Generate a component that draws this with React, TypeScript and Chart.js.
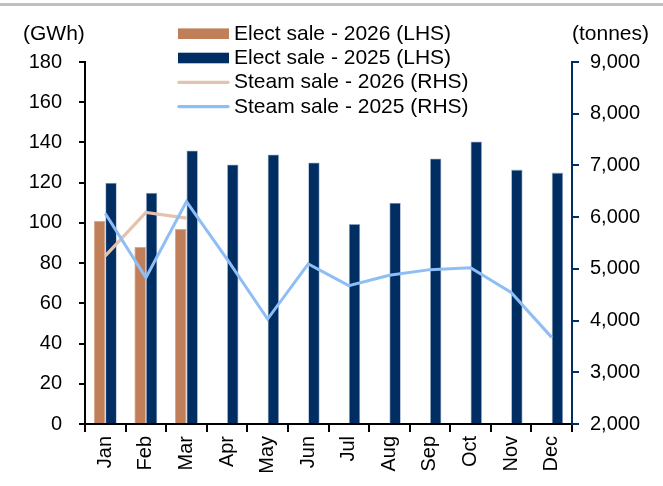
import React, { useEffect, useRef } from "react";
import { Chart, registerables } from "chart.js";

Chart.register(...registerables);

const months = ["Jan", "Feb", "Mar", "Apr", "May", "Jun", "Jul", "Aug", "Sep", "Oct", "Nov", "Dec"];
const elect2026 = [101, 88, 97, null, null, null, null, null, null, null, null, null];
const elect2025 = [120, 115, 136, 129, 134, 130, 99.5, 110, 132, 140.5, 126.5, 125];
const steam2026 = [5250, 6090, 5980, null, null, null, null, null, null, null, null, null];
const steam2025 = [6070, 4830, 6300, 5190, 4030, 5095, 4675, 4875, 4985, 5020, 4545, 3675];
const leftTicks = { min: 0, max: 180, step: 20 };
const rightTicks = { min: 2000, max: 9000, step: 1000 };
const leftTitle = "(GWh)";
const rightTitle = "(tonnes)";

const NAVY = "#002D62";
const ORANGE = "#C17F59";
const PEACH = "#E4C2AD";
const LIGHTBLUE = "#8DBEF5";
const FONT = "'Liberation Sans', Arial, sans-serif";

const overlayPlugin = {
  id: "overlay",
  afterDraw(chart: any) {
    const ctx = chart.ctx;
    ctx.save();
    ctx.fillStyle = "#C0C0C0";
    ctx.fillRect(0, 3, 663, 3);
    ctx.fillStyle = "#000";
    ctx.font = `21px ${FONT}`;
    ctx.textBaseline = "alphabetic";
    ctx.textAlign = "left";
    ctx.fillText(leftTitle, 23, 40);
    ctx.fillText(rightTitle, 572, 40);
    const dsets = chart.data.datasets;
    dsets.forEach((ds: any, i: number) => {
      const cy = 33.7 + i * 24.3;
      const base = 40 + i * 24.2;
      if (ds.type === "line") {
        ctx.strokeStyle = ds.borderColor;
        ctx.lineWidth = 3.3;
        ctx.lineCap = "round";
        ctx.beginPath();
        ctx.moveTo(179, cy);
        ctx.lineTo(228, cy);
        ctx.stroke();
      } else {
        ctx.fillStyle = ds.backgroundColor;
        ctx.fillRect(178, cy - 5.3, 51, 10.6);
      }
      ctx.fillStyle = "#000";
      ctx.font = `21px ${FONT}`;
      ctx.fillText(ds.label, 234, base);
    });
    ctx.restore();
  },
};

export default function App() {
  const ref = useRef<HTMLCanvasElement | null>(null);
  useEffect(() => {
    if (!ref.current) return;
    const tickFont = { family: FONT, size: 20 };
    const chart = new Chart(ref.current, {
      type: "bar",
      data: {
        labels: months,
        datasets: [
          {
            type: "bar",
            label: "Elect sale - 2026 (LHS)",
            data: elect2026,
            backgroundColor: ORANGE,
            borderColor: "#D3A286",
            borderWidth: 0.8,
            yAxisID: "y",
            order: 2,
            categoryPercentage: 0.565,
            barPercentage: 1.0,
          },
          {
            type: "bar",
            label: "Elect sale - 2025 (LHS)",
            data: elect2025,
            backgroundColor: NAVY,
            borderColor: "rgba(150,170,200,0.9)",
            borderWidth: 0.8,
            yAxisID: "y",
            order: 2,
            categoryPercentage: 0.565,
            barPercentage: 1.0,
          },
          {
            type: "line",
            label: "Steam sale - 2026 (RHS)",
            data: steam2026,
            borderColor: PEACH,
            backgroundColor: PEACH,
            borderWidth: 3.3,
            pointRadius: 0,
            tension: 0,
            yAxisID: "y1",
            order: 1,
          },
          {
            type: "line",
            label: "Steam sale - 2025 (RHS)",
            data: steam2025,
            borderColor: LIGHTBLUE,
            backgroundColor: LIGHTBLUE,
            borderWidth: 3,
            pointRadius: 0,
            tension: 0,
            yAxisID: "y1",
            order: 0,
          },
        ] as any,
      },
      options: {
        responsive: false,
        animation: false,
        layout: { padding: { top: 62, left: 0, right: 0, bottom: 0 } },
        plugins: { legend: { display: false }, tooltip: { enabled: false }, title: { display: false } },
        scales: {
          x: {
            type: "category",
            offset: true,
            grid: { display: true, drawOnChartArea: false, drawTicks: true, tickLength: 8, color: "#000", lineWidth: 2, offset: true },
            border: { display: true, color: "#000", width: 2 },
            ticks: { maxRotation: 90, minRotation: 90, padding: 4, color: "#000", font: tickFont, autoSkip: false },
            afterFit: (s: any) => { s.height = 62; },
          },
          y: {
            position: "left",
            min: leftTicks.min,
            max: leftTicks.max,
            grid: { display: true, drawOnChartArea: false, drawTicks: true, tickLength: 6, color: "#000", lineWidth: 2 },
            border: { display: true, color: "#000", width: 2 },
            ticks: { stepSize: leftTicks.step, padding: 17, color: "#000", font: tickFont },
            afterFit: (s: any) => { s.width = 85; },
          },
          y1: {
            position: "right",
            min: rightTicks.min,
            max: rightTicks.max,
            grid: { display: true, drawOnChartArea: false, drawTicks: true, tickLength: 7, color: NAVY, lineWidth: 2 },
            border: { display: true, color: NAVY, width: 2 },
            ticks: {
              stepSize: rightTicks.step,
              padding: 11,
              color: "#000",
              font: tickFont,
              callback: (v: any) => Number(v).toLocaleString("en-US"),
            },
            afterFit: (s: any) => { s.width = 91; },
          },
        },
      } as any,
      plugins: [overlayPlugin],
    });
    return () => chart.destroy();
  }, []);
  return (
    <div style={{ position: "absolute", left: 0, top: 0, width: 663, height: 486, background: "#fff" }}>
      <canvas ref={ref} width={663} height={486} style={{ display: "block" }} />
    </div>
  );
}
